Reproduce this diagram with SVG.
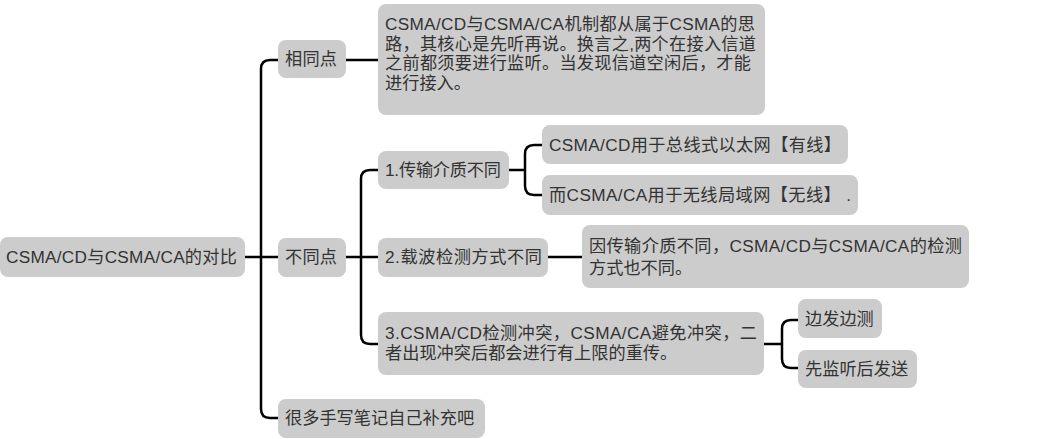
<svg xmlns="http://www.w3.org/2000/svg" width="1044" height="439" viewBox="0 0 1044 439">
<style>
.box{fill:#cccccc;}
.t{font-family:"Liberation Sans","Noto Sans CJK SC",sans-serif;font-size:17.2px;fill:#333333;}
.c{fill:none;stroke:#000000;stroke-width:2.5;stroke-linecap:butt;stroke-linejoin:round;}
</style>
<rect width="1044" height="439" fill="#ffffff"/>
<g id="connectors">
<path class="c" d="M279,60 H270 Q261,60 261,69 V409 Q261,418 270,418 H279"/>
<path class="c" d="M245,257 H279"/>
<path class="c" d="M346,60 H378"/>
<path class="c" d="M378,170 H370 Q361,170 361,179 V335 Q361,344 370,344 H378"/>
<path class="c" d="M346,257 H378"/>
<path class="c" d="M548,257 H582"/>
<path class="c" d="M509,170 H525"/>
<path class="c" d="M542,145 H534 Q525,145 525,154 V186 Q525,195 534,195 H542"/>
<path class="c" d="M764,344 H782"/>
<path class="c" d="M798,320 H791 Q782,320 782,329 V359 Q782,368 791,368 H798"/>
</g>
<g id="root">
<rect class="box" x="0" y="237" width="245" height="40" rx="8"/>
<text class="t" x="6" y="263" textLength="231" lengthAdjust="spacing">CSMA/CD与CSMA/CA的对比</text>
</g>
<g id="same">
<rect class="box" x="278" y="40" width="68" height="38" rx="8"/>
<text class="t" x="285" y="65" textLength="52" lengthAdjust="spacing">相同点</text>
</g>
<g id="same-detail">
<rect class="box" x="378" y="4" width="387" height="111" rx="8"/>
<text class="t" x="385" y="30" textLength="370" lengthAdjust="spacing">CSMA/CD与CSMA/CA机制都从属于CSMA的思</text>
<text class="t" x="385" y="49.5" textLength="371" lengthAdjust="spacing">路，其核心是先听再说。换言之,两个在接入信道</text>
<text class="t" x="385" y="69" textLength="366" lengthAdjust="spacing">之前都须要进行监听。当发现信道空闲后，才能</text>
<text class="t" x="385" y="88.5">进行接入。</text>
</g>
<g id="diff">
<rect class="box" x="278" y="238" width="68" height="39" rx="8"/>
<text class="t" x="285" y="263" textLength="52" lengthAdjust="spacing">不同点</text>
</g>
<g id="diff1">
<rect class="box" x="378" y="151" width="131" height="38" rx="8"/>
<text class="t" x="385" y="176" textLength="116" lengthAdjust="spacing">1.传输介质不同</text>
</g>
<g id="diff1-a">
<rect class="box" x="542" y="125" width="306" height="39" rx="8"/>
<text class="t" x="549" y="151" textLength="292" lengthAdjust="spacing">CSMA/CD用于总线式以太网【有线】</text>
</g>
<g id="diff1-b">
<rect class="box" x="542" y="175" width="316" height="40" rx="8"/>
<text class="t" x="549" y="201" textLength="302" lengthAdjust="spacing">而CSMA/CA用于无线局域网【无线】 .</text>
</g>
<g id="diff2">
<rect class="box" x="378" y="238" width="170" height="39" rx="8"/>
<text class="t" x="385" y="263" textLength="157" lengthAdjust="spacing">2.载波检测方式不同</text>
</g>
<g id="diff2-a">
<rect class="box" x="582" y="225" width="387" height="63" rx="8"/>
<text class="t" x="589" y="252" textLength="373" lengthAdjust="spacing">因传输介质不同，CSMA/CD与CSMA/CA的检测</text>
<text class="t" x="589" y="274">方式也不同。</text>
</g>
<g id="diff3">
<rect class="box" x="378" y="312" width="386" height="63" rx="8"/>
<text class="t" x="385" y="339" textLength="372" lengthAdjust="spacing">3.CSMA/CD检测冲突，CSMA/CA避免冲突，二</text>
<text class="t" x="385" y="358.5">者出现冲突后都会进行有上限的重传。</text>
</g>
<g id="diff3-a">
<rect class="box" x="798" y="299" width="84" height="39" rx="8"/>
<text class="t" x="805" y="325">边发边测</text>
</g>
<g id="diff3-b">
<rect class="box" x="798" y="350" width="119" height="38" rx="8"/>
<text class="t" x="805" y="375">先监听后发送</text>
</g>
<g id="notes">
<rect class="box" x="278" y="399" width="207" height="39" rx="8"/>
<text class="t" x="285" y="424">很多手写笔记自己补充吧</text>
</g>
</svg>
